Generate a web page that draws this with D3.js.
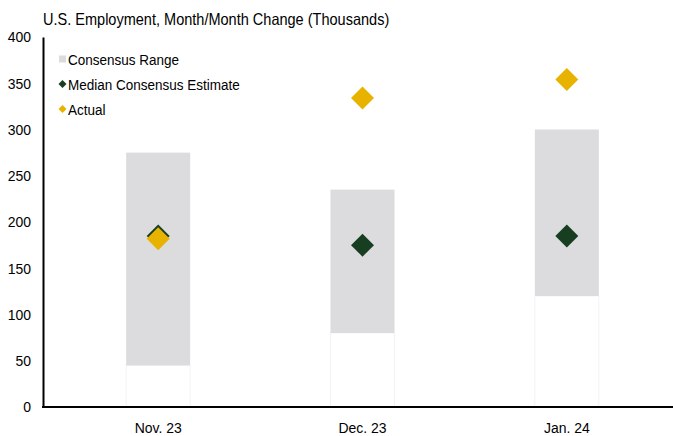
<!DOCTYPE html>
<html>
<head>
<meta charset="utf-8">
<script src="https://cdn.jsdelivr.net/npm/d3@7"></script>
<style>
  body { margin: 0; background: #fff; }
  text { font-family: Arial, "Liberation Sans", sans-serif; fill: #000; }
</style>
</head>
<body>
<div id="chart"></div>
<script>
// Chart data
var months = ["Nov. 23", "Dec. 23", "Jan. 24"];
var rangeLow = [45, 80, 120];
var rangeHigh = [275, 235, 300];
var medianEstimate = [185, 175, 185];
var actual = [182, 334, 354];
var yTicks = [0, 50, 100, 150, 200, 250, 300, 350, 400];
var legendLabels = ["Consensus Range", "Median Consensus Estimate", "Actual"];

var W = 673, H = 436;
var margin = { top: 37, right: 4, bottom: 29, left: 43 };

var svg = d3.select("#chart").append("svg")
    .attr("width", W)
    .attr("height", H);

var colors = { range: "#dcdcde", median: "#183e21", actual: "#e8b300" };

// squeeze text a little, the original font runs narrow
function squeeze(sel, k) {
    sel.each(function(){
        var w = this.getComputedTextLength();
        d3.select(this)
            .attr("textLength", w * k)
            .attr("lengthAdjust", "spacingAndGlyphs");
    });
}

// scales
var y = d3.scaleLinear()
    .domain([0, 400])
    .range([H - margin.bottom, margin.top]);

var x = d3.scalePoint()
    .domain(months)
    .range([56, 669])
    .padding(0.5);

var barW = 64;

// title
svg.append("text")
    .attr("x", 43)
    .attr("y", 25)
    .style("font-size", "16.5px")
    .text("U.S. Employment, Month/Month Change (Thousands)")
    .call(squeeze, 0.88);

// base bars (white with faint outline like the original)
svg.selectAll(".base")
    .data(months)
    .enter().append("rect")
    .attr("class", "base")
    .attr("x", function(d){ return x(d) - barW / 2; })
    .attr("width", barW)
    .attr("y", function(d, i){ return y(rangeLow[i]); })
    .attr("height", function(d, i){ return y(0) - y(rangeLow[i]); })
    .attr("fill", "#fff")
    .attr("stroke", "#f3f3f3")
    .attr("stroke-width", 1);

// consensus range bars
svg.selectAll(".range")
    .data(months)
    .enter().append("rect")
    .attr("class", "range")
    .attr("x", function(d){ return x(d) - barW / 2; })
    .attr("width", barW)
    .attr("y", function(d, i){ return y(rangeHigh[i]); })
    .attr("height", function(d, i){ return y(rangeLow[i]) - y(rangeHigh[i]); })
    .attr("fill", colors.range);

// diamond path
function diamond(r) {
    return "M0," + (-r) + "L" + r + ",0L0," + r + "L" + (-r) + ",0Z";
}

svg.selectAll(".median")
    .data(months)
    .enter().append("path")
    .attr("class", "median")
    .attr("d", diamond(11.5))
    .attr("transform", function(d, i){ return "translate(" + x(d) + "," + y(medianEstimate[i]) + ")"; })
    .attr("fill", colors.median);

svg.selectAll(".actual")
    .data(months)
    .enter().append("path")
    .attr("class", "actual")
    .attr("d", diamond(11.5))
    .attr("transform", function(d, i){ return "translate(" + x(d) + "," + y(actual[i]) + ")"; })
    .attr("fill", colors.actual);

// y axis
var yAxis = d3.axisLeft(y).tickValues(yTicks).tickSize(0).tickPadding(12);
var yg = svg.append("g")
    .attr("transform", "translate(" + margin.left + ",0)")
    .call(yAxis);
yg.select(".domain").attr("stroke", "#000").attr("stroke-width", 2);
yg.selectAll("text")
    .style("font-size", "15.5px")
    .attr("fill", "#000")
    .style("font-family", "Arial, 'Liberation Sans', sans-serif")
    .call(squeeze, 0.9);

// x axis line
svg.append("line")
    .attr("x1", margin.left - 1)
    .attr("x2", W)
    .attr("y1", y(0))
    .attr("y2", y(0))
    .attr("stroke", "#000")
    .attr("stroke-width", 2);

svg.selectAll(".xlab")
    .data(months)
    .enter().append("text")
    .attr("class", "xlab")
    .attr("x", function(d){ return x(d); })
    .attr("y", 433)
    .attr("text-anchor", "middle")
    .style("font-size", "15.5px")
    .text(function(d){ return d; })
    .call(squeeze, 0.9);

// legend
var legend = svg.append("g").attr("transform", "translate(59,0)");
var legendY = [59, 84, 109];

legend.append("rect")
    .attr("x", 0).attr("y", legendY[0] - 3.5)
    .attr("width", 7).attr("height", 7)
    .attr("fill", colors.range);
legend.append("path")
    .attr("d", diamond(4))
    .attr("transform", "translate(3.5," + legendY[1] + ")")
    .attr("fill", colors.median);
legend.append("path")
    .attr("d", diamond(4))
    .attr("transform", "translate(3.5," + legendY[2] + ")")
    .attr("fill", colors.actual);

legend.selectAll(".leg")
    .data(legendLabels)
    .enter().append("text")
    .attr("class", "leg")
    .attr("x", 9)
    .attr("y", function(d, i){ return legendY[i] + 5.5; })
    .style("font-size", "15.5px")
    .text(function(d){ return d; })
    .call(squeeze, 0.87);
</script>
</body>
</html>
